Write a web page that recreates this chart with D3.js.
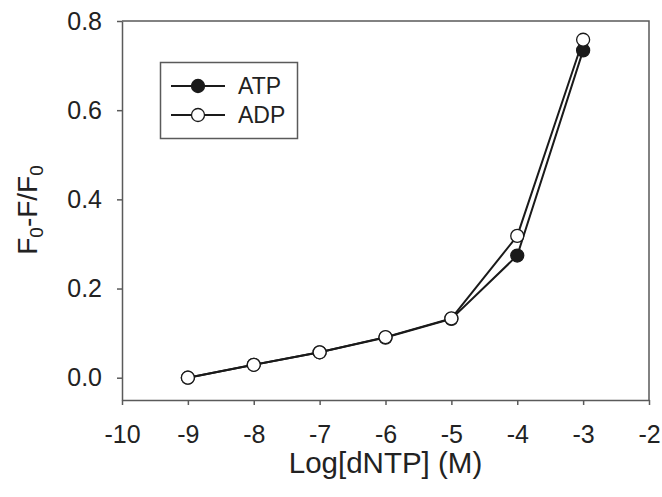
<!DOCTYPE html>
<html>
<head>
<meta charset="utf-8">
<script src="https://cdn.jsdelivr.net/npm/d3@7"></script>
<style>
  body { margin: 0; background: #fff; }
  svg { display: block; font-family: "Liberation Sans", Arial, sans-serif; }
  .axis path, .axis line { stroke: #5a5a5a; stroke-width: 1.5; }
  .axis text { font-size: 25px; fill: #222; }
</style>
</head>
<body>
<svg id="chart" width="662" height="497"></svg>
<script>
// data
const logConc = [-9, -8, -7, -6, -5, -4, -3];
const atpValues = [0.0, 0.029, 0.057, 0.090, 0.132, 0.274, 0.734];
const adpValues = [0.0, 0.029, 0.057, 0.091, 0.133, 0.318, 0.758];
const xTicks = [-10, -9, -8, -7, -6, -5, -4, -3, -2];
const yTicks = [0.0, 0.2, 0.4, 0.6, 0.8];

const width = 662;
const height = 497;
const margin = { top: 21, right: 13, bottom: 97, left: 122 };

const svg = d3.select("#chart");

const x = d3.scaleLinear()
    .domain([-10, -2])
    .range([margin.left, width - margin.right]);

const y = d3.scaleLinear()
    .domain([-0.05, 0.8])
    .range([height - margin.bottom, margin.top]);

// frame (top + right)
svg.append("path")
    .attr("d", `M${x(-10)},${y(0.8)}H${x(-2)}V${y(-0.05)}`)
    .attr("fill", "none")
    .attr("stroke", "#5a5a5a")
    .attr("stroke-width", 1.5);

// axes
svg.append("g")
    .attr("class", "axis")
    .attr("transform", `translate(0,${height - margin.bottom})`)
    .call(d3.axisBottom(x).tickValues(xTicks).tickFormat(d3.format("d"))
        .tickSize(5).tickSizeOuter(0).tickPadding(20))
    .selectAll("text").text(d => String(d).replace("\u2212", "-"));

svg.append("g")
    .attr("class", "axis")
    .attr("transform", `translate(${margin.left},0)`)
    .call(d3.axisLeft(y).tickValues(yTicks).tickFormat(d3.format(".1f"))
        .tickSize(5).tickSizeOuter(0).tickPadding(15));

// axis titles
svg.append("text")
    .attr("x", (margin.left + width - margin.right) / 2)
    .attr("y", 473)
    .attr("text-anchor", "middle")
    .attr("font-size", 29.5)
    .attr("fill", "#222")
    .text("Log[dNTP] (M)");

const yTitle = svg.append("text")
    .attr("transform", "translate(37,210) rotate(-90)")
    .attr("text-anchor", "middle")
    .attr("font-size", 28)
    .attr("fill", "#222");
yTitle.append("tspan").text("F");
yTitle.append("tspan").attr("font-size", 19).attr("baseline-shift", "-30%").text("0");
yTitle.append("tspan").text("-F/F");
yTitle.append("tspan").attr("font-size", 19).attr("baseline-shift", "-30%").text("0");

// lines
const line = d3.line()
    .x((d, i) => x(logConc[i]))
    .y(d => y(d));

const series = [
    { name: "ATP", values: atpValues, fill: "#1a1a1a" },
    { name: "ADP", values: adpValues, fill: "#fff" }
];

series.forEach(s => {
    svg.append("path")
        .datum(s.values)
        .attr("d", line)
        .attr("fill", "none")
        .attr("stroke", "#1a1a1a")
        .attr("stroke-width", 2);
});

series.forEach(s => {
    svg.append("g")
        .selectAll("circle")
        .data(s.values)
        .enter().append("circle")
        .attr("cx", (d, i) => x(logConc[i]))
        .attr("cy", d => y(d))
        .attr("r", 6.5)
        .attr("fill", s.fill)
        .attr("stroke", "#1a1a1a")
        .attr("stroke-width", 1.3);
});

// legend
const legend = svg.append("g");
legend.append("rect")
    .attr("x", 160.5).attr("y", 62.5)
    .attr("width", 137).attr("height", 76)
    .attr("fill", "none")
    .attr("stroke", "#5a5a5a")
    .attr("stroke-width", 1.5);

series.forEach((s, i) => {
    const ly = 86 + i * 29;
    legend.append("line")
        .attr("x1", 171).attr("x2", 225)
        .attr("y1", ly).attr("y2", ly)
        .attr("stroke", "#1a1a1a")
        .attr("stroke-width", 2);
    legend.append("circle")
        .attr("cx", 198).attr("cy", ly)
        .attr("r", 6.5)
        .attr("fill", s.fill)
        .attr("stroke", "#1a1a1a")
        .attr("stroke-width", 1.3);
    legend.append("text")
        .attr("x", 238).attr("y", ly)
        .attr("dy", "0.35em")
        .attr("font-size", 23)
        .attr("fill", "#222")
        .text(s.name);
});
</script>
</body>
</html>
